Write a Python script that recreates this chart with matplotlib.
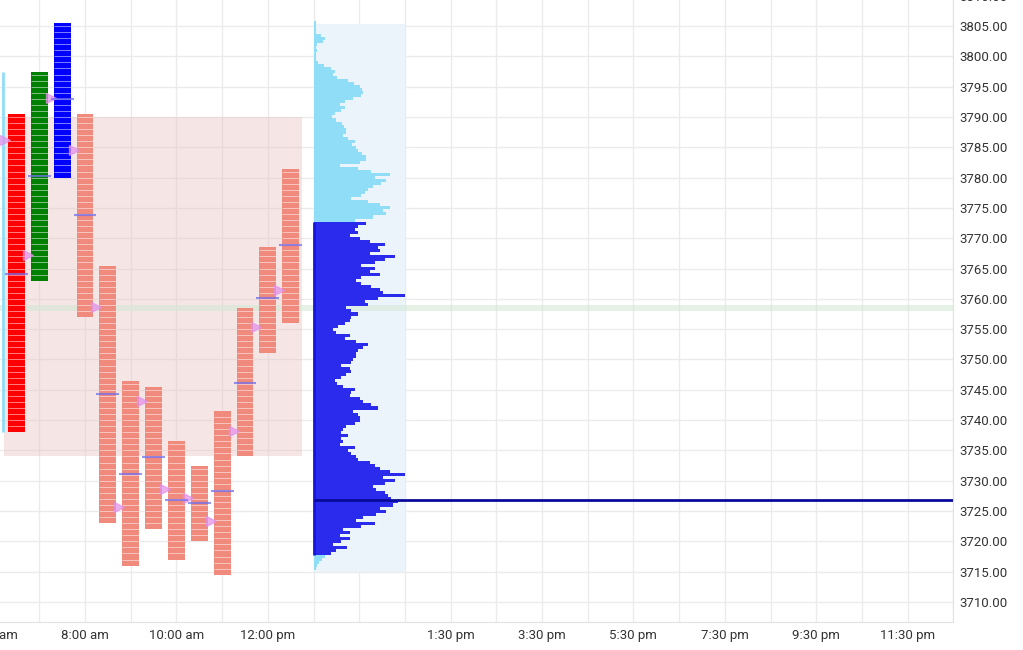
import matplotlib
matplotlib.use('Agg')
import matplotlib.pyplot as plt
import numpy as np

plt.rcParams['font.family'] = ['Roboto', 'DejaVu Sans']

# TPO periods (half-hour columns), x in hours
period_pos = [6.5, 7.0, 7.5, 8.0, 8.5, 9.0, 9.5, 10.0, 10.5, 11.0, 11.5, 12.0, 12.5]
period_high = [3790.5, 3797.5, 3805.5, 3790.5, 3765.5, 3746.5, 3745.5, 3736.5, 3732.5, 3741.5, 3758.5, 3768.5, 3781.5]
period_low = [3738.0, 3763.0, 3780.0, 3757.0, 3723.0, 3716.0, 3722.0, 3717.0, 3720.0, 3714.5, 3734.0, 3751.0, 3756.0]
period_open = [3786.2, 3767.2, 3793.1, 3784.5, 3758.6, 3725.6, 3743.1, 3728.6, 3727.1, 3723.3, 3738.2, 3755.3, 3761.4]
period_close = [3764.1, 3780.2, 3793.0, 3773.8, 3744.3, 3731.1, 3733.9, 3726.8, 3726.3, 3728.3, 3746.1, 3760.1, 3768.9]
period_color = ['#FF0000', '#008000', '#0000FF'] + ['#F08A7C'] * 10

# value area of the session, previous profile tail, reference band
va_high, va_low = 3790.0, 3734.0
va_start, va_end = 6.23, 12.74
prev_x, prev_high, prev_low = 6.2, 3797.4, 3738.0
band_low, band_high = 3758.0, 3759.0

# volume profile (0.5 pt rows, top to bottom)
profile_top, profile_bottom = 3805.5, 3715.5
profile_vol = [
    2, 2, 2, 2, 8, 12, 10, 4, 3, 4, 3, 2, 2, 5, 11, 18, 22, 20, 24, 35,
    41, 47, 49, 50, 48, 40, 32, 27, 32, 28, 22, 19, 23, 29, 31, 33,
    33, 30, 35, 42, 39, 43, 45, 49, 53, 53, 47, 27, 45, 58, 77, 62, 73, 68,
    60, 55, 52, 48, 38, 55, 67, 77, 70, 73, 60, 42, 53, 45, 42, 45, 37, 47,
    57, 72, 65, 67, 57, 82, 72, 62, 48, 62, 57, 67, 48, 43, 48, 58, 67, 70,
    92, 65, 52, 55, 33, 38, 45, 38, 37, 32, 25, 20, 23, 37, 32, 43, 55, 50,
    45, 43, 43, 40, 38, 28, 37, 38, 33, 28, 22, 24, 30, 42, 38, 37, 47, 50,
    58, 65, 40, 45, 47, 47, 42, 33, 30, 28, 35, 28, 30, 27, 42, 35, 38, 43,
    45, 57, 62, 67, 77, 92, 70, 82, 72, 60, 63, 72, 75, 78, 85, 80, 67, 73,
    63, 50, 43, 62, 48, 30, 37, 27, 37, 28, 20, 34, 23, 18, 12, 9, 6, 4, 2,
]
profile_va_high, profile_va_low = 3772.5, 3718.0
poc = 3726.75
profile_start, profile_width = 13.0, 2.0
profile_bg_top, profile_bg_bottom = 3805.3, 3714.9

xtick_pos = [6, 8, 10, 12, 16, 18, 20, 22, 24, 26]
xtick_labels = ['6:00 am', '8:00 am', '10:00 am', '12:00 pm', '1:30 pm',
                '3:30 pm', '5:30 pm', '7:30 pm', '9:30 pm', '11:30 pm']

fig = plt.figure(figsize=(10.23, 6.5), dpi=100)
ax = fig.add_axes([-0.02859, 0.04308, 0.9605, 0.98215])
ax.set_xlim(5.5, 27)
ax.set_ylim(3706.7, 3812.0)

# background shapes
ax.fill_between([va_start, va_end], va_low, va_high, color='#E8BFBF', alpha=0.4, lw=0, zorder=1)
ax.fill_between([profile_start, profile_start + profile_width], profile_bg_bottom, profile_bg_top,
                color='#EBF3FB', lw=0, zorder=1)
ax.axhspan(band_low, band_high, color='#D5E8D5', alpha=0.6, lw=0, zorder=1.5)
ax.vlines(prev_x, prev_low, prev_high, color='#8FDDF7', lw=2, zorder=2)

# TPO columns
w = 0.37
heights = np.array(period_high) - np.array(period_low)
ax.bar(period_pos, heights, bottom=period_low, width=w, color=period_color, zorder=2)
for x, lo, hi in zip(period_pos, period_low, period_high):
    seps = np.arange(lo + 1, hi, 1.0)
    ax.hlines(seps, x - w / 2, x + w / 2, color='white', lw=0.7, alpha=0.5, zorder=2.5)

# open markers and close dashes
ax.plot(np.array(period_pos) - 0.25, period_open, linestyle='none', marker='>',
        ms=7, color='#E28FE8', alpha=0.7, zorder=3)
ax.hlines(period_close, np.array(period_pos) - 0.25, np.array(period_pos) + 0.25,
          color='#7070F0', lw=1.5, alpha=0.75, zorder=3)

# volume profile
prices = np.arange(profile_top, profile_bottom - 0.01, -0.5)
vol = np.array(profile_vol, dtype=float)
widths = vol / vol.max() * profile_width
in_va = (prices >= profile_va_low) & (prices <= profile_va_high)
colors = np.where(in_va, '#2B2BEE', '#8FDDF7')
ax.barh(prices, widths, height=0.5, left=profile_start, color=colors,
        lw=0, zorder=2)
ax.vlines(profile_start, profile_va_low - 0.25, profile_va_high + 0.25, color='#1515E0', lw=2, zorder=2.5)
ax.hlines(poc, profile_start, 27, color='#0A0A9A', lw=2, zorder=3)

# axes styling
ax.yaxis.tick_right()
ax.set_yticks(np.arange(3710, 3815, 5))
ax.set_yticklabels([f'{v:.2f}' for v in np.arange(3710, 3815, 5)])
ax.set_xticks(xtick_pos)
ax.set_xticklabels(xtick_labels)
ax.set_xticks(np.arange(6, 28, 1), minor=True)
ax.grid(True, which='both', color='#EBEBEB', lw=1, zorder=0)
ax.set_axisbelow(True)
ax.tick_params(which='both', length=0)
ax.tick_params(axis='y', labelsize=9.5, labelcolor='#333333', pad=4)
ax.tick_params(axis='x', labelsize=9.5, labelcolor='#333333', pad=5)
for s in ['top', 'left']:
    ax.spines[s].set_visible(False)
for s in ['right', 'bottom']:
    ax.spines[s].set_color('#E2E2E2')

fig.savefig('out.png', dpi=100)
